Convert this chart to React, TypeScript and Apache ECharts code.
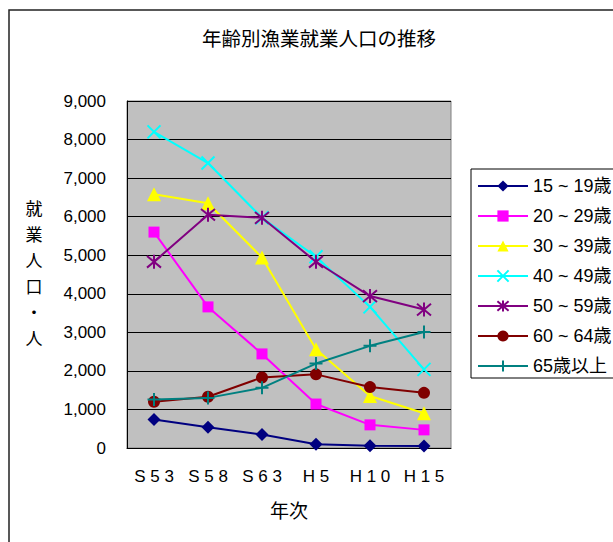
import React, { useEffect, useRef } from "react";
import * as echarts from "echarts";

const categories = ["S 5 3", "S 5 8", "S 6 3", "H 5", "H 1 0", "H 1 5"];
const seriesNames = ["15 ~ 19歳", "20 ~ 29歳", "30 ~ 39歳", "40 ~ 49歳", "50 ~ 59歳", "60 ~ 64歳", "65歳以上"];
const age15to19 = [740, 540, 350, 100, 60, 50];
const age20to29 = [5600, 3660, 2440, 1140, 600, 470];
const age30to39 = [6580, 6350, 4940, 2560, 1350, 900];
const age40to49 = [8200, 7390, 5970, 4960, 3660, 2040];
const age50to59 = [4830, 6050, 5970, 4830, 3940, 3590];
const age60to64 = [1200, 1330, 1830, 1910, 1580, 1430];
const age65plus = [1260, 1300, 1560, 2190, 2650, 3010];

const FONT = "'Liberation Sans', 'Noto Sans CJK JP', sans-serif";
const CJK = "'Noto Sans CJK JP', sans-serif";

export default function App() {
  const ref = useRef<HTMLDivElement>(null);
  useEffect(() => {
    if (!ref.current) return;
    const chart = echarts.init(ref.current, null, { renderer: "svg" });
    const values = [age15to19, age20to29, age30to39, age40to49, age50to59, age60to64, age65plus];
    const colors = ["#000080", "#FF00FF", "#FFFF00", "#00FFFF", "#800080", "#800000", "#008080"];
    const symbols = [
      "diamond",
      "rect",
      "triangle",
      "path://M0,0L10,10M10,0L0,10",
      "path://M0,0L10,10M10,0L0,10M5,-1L5,11",
      "circle",
      "path://M5,0L5,10M0,5L10,5",
    ];
    const sizes = [13, 11, 14, 13, 14, 12, 13];
    const stroked = [false, false, false, true, true, false, true];
    const series = values.map((d, i) => ({
      name: seriesNames[i],
      type: "line",
      data: d,
      symbol: symbols[i],
      symbolSize: sizes[i],
      showSymbol: true,
      lineStyle: { color: colors[i], width: 2 },
      itemStyle: stroked[i]
        ? { color: colors[i], borderColor: colors[i], borderWidth: 2 }
        : { color: colors[i], borderWidth: 0 },
      emphasis: { disabled: true },
    }));
    chart.setOption({
      animation: false,
      backgroundColor: "#ffffff",
      textStyle: { fontFamily: FONT },
      grid: { left: 127, top: 101, width: 324, height: 347, containLabel: false, show: true, backgroundColor: "#C0C0C0", borderColor: "#808080", borderWidth: 1 },
      xAxis: {
        type: "category",
        data: categories,
        boundaryGap: true,
        axisLine: { lineStyle: { color: "#000", width: 1 } },
        axisTick: { inside: true, length: 5, lineStyle: { color: "#000" } },
        axisLabel: { color: "#000", fontSize: 17, margin: 20, fontFamily: FONT },
        name: "年次",
        nameLocation: "middle",
        nameGap: 52,
        nameTextStyle: { color: "#000", fontSize: 19, fontFamily: CJK },
        splitLine: { show: false },
      },
      yAxis: {
        type: "value",
        min: 0,
        max: 9000,
        interval: 1000,
        axisLine: { show: true, lineStyle: { color: "#000", width: 1 } },
        axisTick: { show: true, inside: true, length: 5, lineStyle: { color: "#000" } },
        axisLabel: {
          color: "#000",
          fontSize: 17,
          margin: 21,
          fontFamily: FONT,
          formatter: (v: number) => v.toLocaleString("en-US"),
        },
        splitLine: { show: true, lineStyle: { color: "#000", width: 1 } },
      },
      legend: {
        orient: "vertical",
        left: 471,
        top: 169,
        itemWidth: 50,
        itemHeight: 14,
        itemGap: 10,
        padding: [7, 12, 2, 6],
        backgroundColor: "#fff",
        borderColor: "#000",
        borderWidth: 1,
        textStyle: { color: "#000", fontSize: 18, lineHeight: 20, fontFamily: FONT },
        data: seriesNames,
      },
      graphic: [
        {
          type: "rect",
          shape: { x: 9, y: 10, width: 700, height: 600 },
          style: { fill: "none", stroke: "#222", lineWidth: 1.5 },
          z: -10,
          silent: true,
        },
        {
          type: "text",
          x: 319,
          y: 37,
          style: { text: "年齢別漁業就業人口の推移", fontSize: 19.5, fontFamily: CJK, fill: "#000", align: "center", verticalAlign: "middle" },
        },
        {
          type: "text",
          x: 34,
          y: 272,
          style: {
            text: "就\n業\n人\n口\n・\n人",
            fontSize: 17,
            lineHeight: 26,
            fontFamily: CJK,
            fill: "#000",
            align: "center",
            verticalAlign: "middle",
          },
        },
      ],
      series,
    });
    return () => chart.dispose();
  }, []);
  return <div ref={ref} style={{ position: "fixed", left: 0, top: 0, width: 613, height: 542 }} />;
}
